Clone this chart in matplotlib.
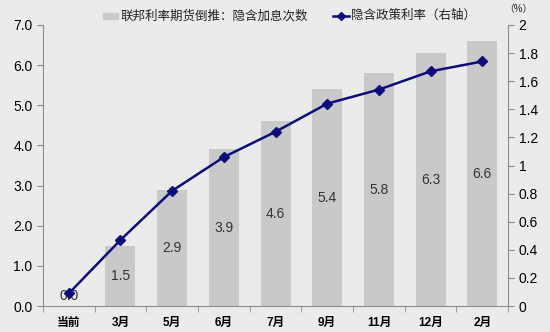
import matplotlib
matplotlib.use("Agg")
import matplotlib.pyplot as plt
from matplotlib.patches import Rectangle
from matplotlib.lines import Line2D
import numpy as np

# Latin digits in Liberation Sans, Chinese falls through to Noto CJK
plt.rcParams['font.family'] = ['Liberation Sans', 'Noto Sans CJK SC']

# data
months = ['当前', '3月', '5月', '6月', '7月', '9月', '11月', '12月', '2月']
hikes = [0.0, 1.5, 2.9, 3.9, 4.6, 5.4, 5.8, 6.3, 6.6]
policy_rate = [0.09, 0.47, 0.82, 1.06, 1.24, 1.44, 1.54, 1.67, 1.74]

bg = '#ebebeb'
axis_col = '#8c8c8c'
line_col = '#0c0c7a'
fig = plt.figure(figsize=(5.5, 3.32), dpi=100, facecolor=bg)
ax = fig.add_axes([0.078, 0.078, 0.846, 0.847], facecolor=bg)
x = np.arange(len(months))

# bars with value labels in the middle
ax.bar(x, hikes, width=0.58, color='#c9c9c9', zorder=1)
for xi, v in zip(x, hikes):
    ax.text(xi, max(v / 2, 0.25), f'{v:.1f}', ha='center', va='center',
            fontsize=10, color='#333333', zorder=5)

ax.set_xlim(-0.5, len(months) - 0.5)
ax.set_ylim(0, 7)
yt = np.arange(0, 7.01, 1.0)
ax.set_yticks(yt)
ax.set_yticklabels([f'{t:.1f}' for t in yt], fontsize=10)
ax.set_xticks(x)
ax.set_xticklabels(months, fontsize=8.5, fontweight='bold')
ax.set_xticks(np.arange(-0.5, len(months), 1.0), minor=True)
ax.tick_params(axis='x', which='major', length=0, pad=8)
ax.tick_params(axis='x', which='minor', length=4, color=axis_col)
ax.tick_params(axis='y', length=4, color=axis_col)

# rate line on the right axis
ax2 = ax.twinx()
ax2.plot(x, policy_rate, color=line_col, lw=1.8, marker='D', ms=5, zorder=4)
ax2.set_ylim(0, 2)
ticks2 = np.arange(0, 2.01, 0.2)
ax2.set_yticks(ticks2)
ax2.set_yticklabels([('%g' % round(t, 1)) for t in ticks2], fontsize=10)
ax2.tick_params(axis='y', length=4, color=axis_col)

for a in (ax, ax2):
    a.spines['top'].set_visible(False)
    a.spines['left'].set_color(axis_col)
    a.spines['right'].set_color(axis_col)
    a.spines['bottom'].set_color(axis_col)
ax.spines['right'].set_visible(False)
ax2.spines['left'].set_visible(False)
ax2.spines['bottom'].set_visible(False)

# legend row
fig.patches.append(Rectangle((103 / 550, 1 - 19 / 332), 15 / 550, 6 / 332,
                             transform=fig.transFigure, color='#c9c9c9'))
fig.text(120 / 550, 1 - 16 / 332, '联邦利率期货倒推：隐含加息次数', fontsize=9,
         va='center', ha='left', color='#222222')
fig.lines.append(Line2D([333 / 550, 341 / 550, 349 / 550], [1 - 16 / 332] * 3,
                        transform=fig.transFigure, color=line_col, lw=1.8,
                        marker='D', ms=4, markevery=[1]))
fig.text(351 / 550, 1 - 16 / 332, '隐含政策利率（右轴）', fontsize=9,
         va='center', ha='left', color='#222222')
fig.text(518 / 550, 1 - 9 / 332, '（%）', fontsize=7, va='center', ha='center', color='#222222')

fig.savefig('out.png', dpi=100, facecolor=bg)
